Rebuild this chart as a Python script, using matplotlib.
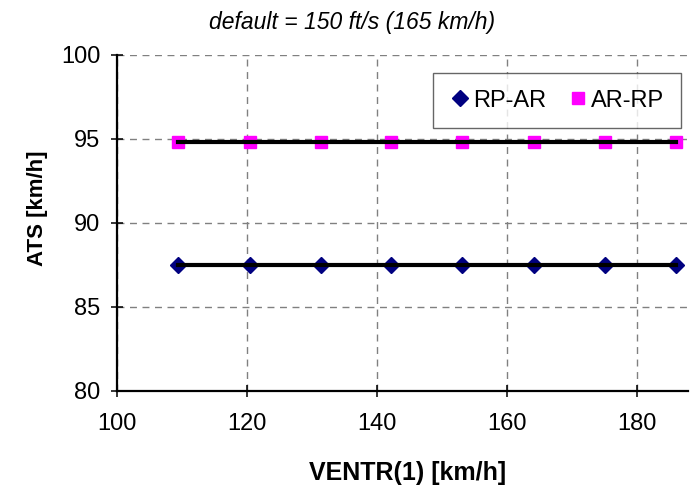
import matplotlib
matplotlib.use("Agg")
import matplotlib.pyplot as plt

plt.rcParams['font.family'] = ['Liberation Sans', 'DejaVu Sans']

# Entry speeds (km/h) and resulting ATS values for both route directions
ventr = [109.4, 120.4, 131.3, 142.2, 153.1, 164.1, 175.0, 186.0]
rp_ar = [87.5, 87.5, 87.5, 87.5, 87.5, 87.5, 87.5, 87.5]
ar_rp = [94.8, 94.8, 94.8, 94.8, 94.8, 94.8, 94.8, 94.8]

W, H = 690, 492
fig = plt.figure(figsize=(W / 100, H / 100), dpi=100)
ax = fig.add_axes([117 / W, 1 - 391 / H, (688 - 117) / W, (391 - 55) / H])

# markers first, trend lines drawn over them
ax.plot(ventr, rp_ar, ls='none', marker='D', ms=8, color='#000080',
        label='RP-AR', zorder=2)
ax.plot(ventr, ar_rp, ls='none', marker='s', ms=8.5, color='#FF00FF',
        label='AR-RP', zorder=2)
ax.plot(ventr, rp_ar, color='black', lw=3, zorder=3)
ax.plot(ventr, ar_rp, color='black', lw=3, zorder=3)

ax.set_xlim(100, 187.8)
ax.set_ylim(80, 100)
ax.set_xticks([100, 120, 140, 160, 180])
ax.set_yticks([80, 85, 90, 95, 100])

ax.grid(True, color='#808080', ls=(0, (5, 4)), lw=1)
ax.set_axisbelow(True)
for s in ('top', 'right'):
    ax.spines[s].set_visible(False)
for s in ('left', 'bottom'):
    ax.spines[s].set_linewidth(1.6)
ax.tick_params(direction='inout', length=8, width=1.1, labelsize=17)
ax.tick_params(axis='x', pad=12)
ax.tick_params(axis='y', pad=8)

fig.text(408 / W, 1 - 480 / H, 'VENTR(1) [km/h]', fontsize=18,
         fontweight='bold', ha='center', va='baseline')
fig.text(38 / W, 1 - 208 / H, 'ATS [km/h]', fontsize=16, fontweight='bold',
         ha='center', va='center', rotation=90)
fig.text(352 / W, 1 - 29 / H, 'default = 150 ft/s (165 km/h)', fontsize=16.5,
         style='italic', ha='center', va='baseline')

leg = ax.legend(loc='upper right', bbox_to_anchor=(681 / W, 1 - 73 / H),
                bbox_transform=fig.transFigure, ncol=2, fontsize=17,
                frameon=True, fancybox=False, edgecolor='#404040',
                handletextpad=0.1, columnspacing=0.9, handlelength=0.9,
                borderpad=0.7, borderaxespad=0)
leg.get_frame().set_linewidth(1)

fig.savefig('out.png', dpi=100)
